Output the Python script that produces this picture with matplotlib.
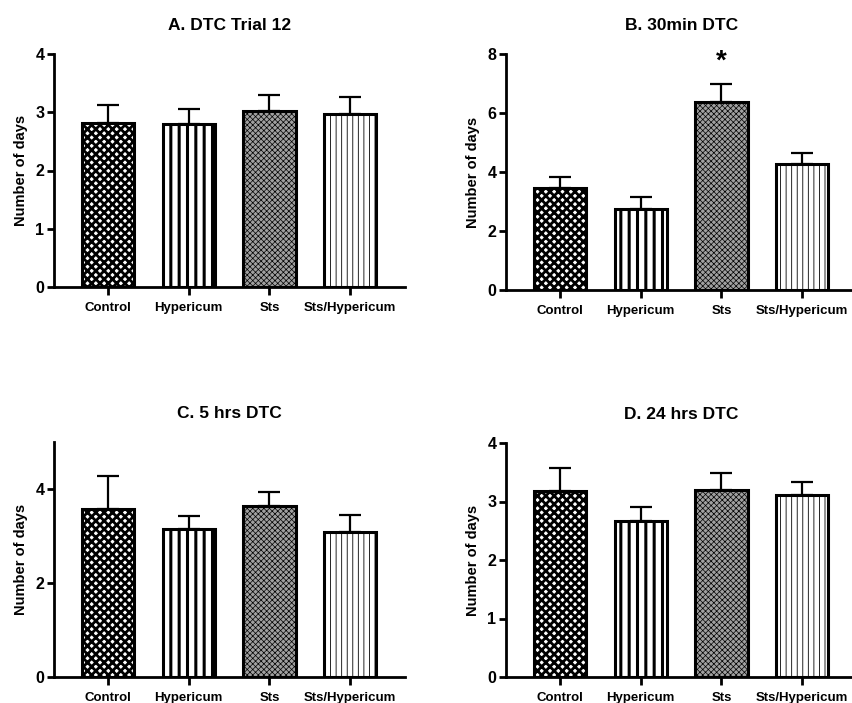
import matplotlib
matplotlib.use("Agg")
import matplotlib.pyplot as plt
import numpy as np

plt.rcParams['font.family'] = ['Liberation Sans', 'DejaVu Sans']
plt.rcParams['font.weight'] = 'bold'

groups = ["Control", "Hypericum", "Sts", "Sts/Hypericum"]

titles = ["A. DTC Trial 12", "B. 30min DTC", "C. 5 hrs DTC", "D. 24 hrs DTC"]
means_A = [2.82, 2.79, 3.02, 2.97]
tops_A = [3.12, 3.05, 3.29, 3.26]
means_B = [3.45, 2.73, 6.37, 4.27]
tops_B = [3.83, 3.15, 6.98, 4.64]
means_C = [3.57, 3.15, 3.63, 3.08]
tops_C = [4.27, 3.42, 3.94, 3.45]
means_D = [3.18, 2.67, 3.19, 3.11]
tops_D = [3.57, 2.91, 3.49, 3.34]
yticks_A = [0, 1, 2, 3, 4]
yticks_B = [0, 2, 4, 6, 8]
yticks_C = [0, 2, 4]
yticks_D = [0, 1, 2, 3, 4]
ylims = [4, 8, 5, 4]
star_panel = 1
star_group = 2
star_y = 7.75

means = [means_A, means_B, means_C, means_D]
tops = [tops_A, tops_B, tops_C, tops_D]
yticks = [yticks_A, yticks_B, yticks_C, yticks_D]

W, H = 853, 703
fig = plt.figure(figsize=(W / 100, H / 100), dpi=100)

# axes boxes in pixels: left, top_px, right, bottom_px
boxes = [(54, 54, 405, 287), (506, 54, 857, 290),
         (54, 442, 405, 677), (506, 443, 857, 677)]

styles = [
    dict(facecolor='white', hatch='xxxx', hlw=2.0),
    dict(facecolor='white', hatch='||', hlw=2.2),
    dict(facecolor='#a0a0a0', hatch='xxxxxx', hlw=0.5),
    dict(facecolor='white', hatch='|||', hlw=0.6),
]

x = np.arange(len(groups))
for i in range(4):
    l, t, r, b = boxes[i]
    ax = fig.add_axes([l / W, 1 - b / H, (r - l) / W, (b - t) / H])
    m = means[i]
    tp = tops[i]
    err = [tp[k] - m[k] for k in range(len(m))]
    ax.errorbar(x, m, yerr=[np.zeros(len(m)), err], fmt='none', ecolor='black',
                elinewidth=1.6, capsize=8, capthick=1.6, zorder=1)
    for k in range(len(groups)):
        st = styles[k]
        bar = ax.bar(x[k], m[k], width=0.65, facecolor=st['facecolor'],
                     edgecolor='black', linewidth=2.2, hatch=st['hatch'], zorder=2)
        for p in bar.patches:
            try:
                p.set_hatch_linewidth(st['hlw'])
            except Exception:
                pass
    ax.set_xlim(-0.67, 3.68)
    ax.set_ylim(0, ylims[i])
    ax.set_yticks(yticks[i])
    ax.set_yticklabels([str(v) for v in yticks[i]], fontsize=11.5, fontweight='bold')
    ax.set_xticks(x)
    ax.set_xticklabels(groups, fontsize=9.5, fontweight='bold')
    for lab in ax.get_xticklabels():
        lab.set_verticalalignment('baseline')
    ax.spines['top'].set_visible(False)
    ax.spines['right'].set_visible(False)
    ax.spines['left'].set_linewidth(2)
    ax.spines['bottom'].set_linewidth(2)
    ax.tick_params(axis='both', width=2, length=5, direction='out')
    ax.tick_params(axis='x', length=6, pad=11)
    ax.tick_params(axis='y', pad=2)
    ax.set_ylabel("Number of days", fontsize=10.5, fontweight='bold', labelpad=5)
    ax.set_title(titles[i], fontsize=12.5, fontweight='bold', pad=17)
    if i == star_panel:
        ax.text(x[star_group], star_y, '*', ha='center', va='center',
                fontsize=20, fontweight='bold')

fig.savefig("out.png", dpi=100)
